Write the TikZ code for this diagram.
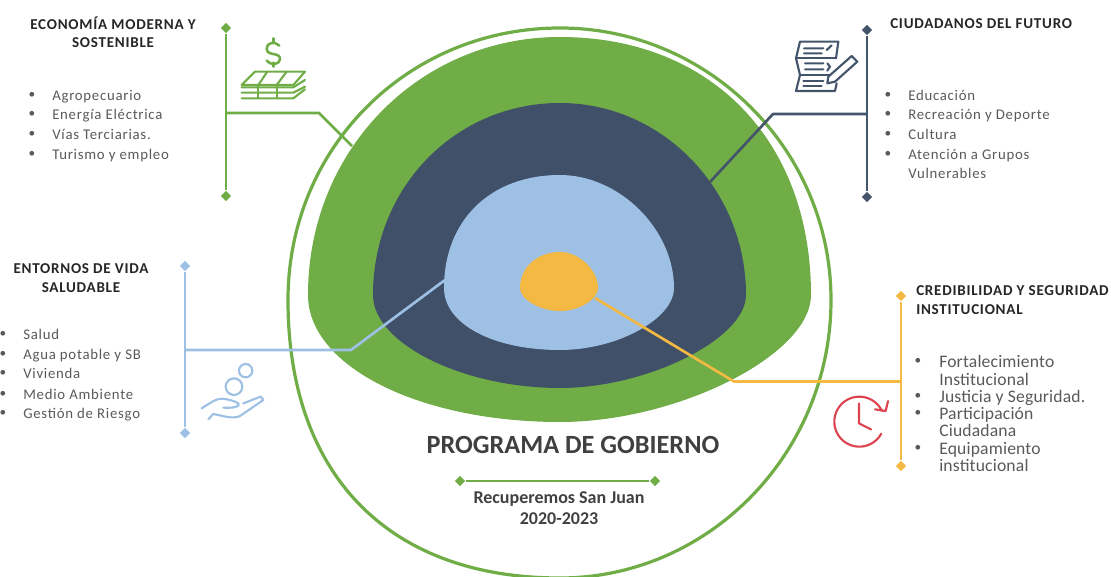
\documentclass[tikz,border=0pt]{standalone}
\usepackage{fontspec}
\setmainfont{Carlito}
\newfontfamily\hdfont[LetterSpace=5]{Carlito}
\newfontfamily\lsfont[LetterSpace=5]{Carlito}
\newfontfamily\lbfont[LetterSpace=1]{Carlito}
\usetikzlibrary{shapes.geometric}
\definecolor{cgreen}{HTML}{70AD47}
\definecolor{cnavy}{HTML}{44546A}
\definecolor{cdeep}{HTML}{405068}
\definecolor{clight}{HTML}{9DC0E4}
\definecolor{cyell}{HTML}{F4B942}
\definecolor{cred}{HTML}{DC4450}
\definecolor{ctext}{HTML}{595959}
\definecolor{chead}{HTML}{262626}
\definecolor{ctitle}{HTML}{404040}
\tikzset{
  conn/.style={line width=2pt,line join=round},
  tip/.style={diamond,fill=#1,draw=none,inner sep=0pt,minimum size=8pt},
  head/.style={font=\hdfont\bfseries\fontsize{11.3}{13}\selectfont,text=chead,inner sep=0pt,text height=9.2pt,text depth=0pt},
  item/.style={font=\lsfont\fontsize{11.1}{13}\selectfont,text=ctext,anchor=west,inner sep=0pt,text height=9.5pt,text depth=1pt},
  itemb/.style={font=\lbfont\fontsize{13.2}{14}\selectfont,text=ctext,anchor=west,inner sep=0pt,text height=10.5pt,text depth=1pt},
  bul/.style={font=\fontsize{10}{12}\selectfont,text=ctext,anchor=center,inner sep=0pt},
  icon/.style={line width=1.6pt,line cap=round,line join=round},
}
% cx, cy, left, right, top, bottom, k top-right, k bottom-right, k bottom-left; \kTL = k top-left
\newcommand\blob[9]{
  (#1,#5) .. controls ({#1+#7*(#4-#1)},#5) and (#4,{#2-#7*(#2-#5)}) .. (#4,#2)
  .. controls (#4,{#2+#8*(#6-#2)}) and ({#1+#8*(#4-#1)},#6) .. (#1,#6)
  .. controls ({#1-#9*(#1-#3)},#6) and (#3,{#2+#9*(#6-#2)}) .. (#3,#2)
  .. controls (#3,{#2-\kTL*(#2-#5)}) and ({#1-\kTL*(#1-#3)},#5) .. (#1,#5) -- cycle
}
\begin{document}
\begin{tikzpicture}[x=0.75pt,y=-0.75pt]
\useasboundingbox (0,0) rectangle (1111,577);
% rings
\def\kTL{.56}
\draw[cgreen,line width=2.4pt] \blob{560}{300}{288}{831}{28}{578}{.55}{.55}{.63};
\def\kTL{.56}
\fill[cgreen] \blob{560}{295}{308}{811}{37}{422}{.6}{.47}{.56};
\def\kTL{.56}
\fill[cdeep] \blob{560}{295}{373}{746}{103}{388}{.55}{.47}{.52};
\def\kTL{.6}
\fill[clight] \blob{560}{288}{444}{674}{175}{350}{.52}{.5}{.58};
\def\kTL{.57}
\fill[cyell] \blob{560}{288}{520}{598}{252}{311}{.5}{.5}{.5};
% connector anchors
\coordinate (gb) at (226,113); \coordinate (gk) at (319,113); \coordinate (ge) at (352,146);
\coordinate (nb) at (867,114); \coordinate (nk) at (773,114); \coordinate (ne) at (710,182);
\coordinate (lb) at (185,350); \coordinate (lk) at (351,350); \coordinate (le) at (445,280);
\coordinate (yb) at (901,381.5); \coordinate (yk) at (734,381.5); \coordinate (ye) at (595,298);
% spine tips
\node[tip=cgreen] (gt) at (226,28) {}; \node[tip=cgreen] (gd) at (226,196) {};
\node[tip=cnavy] (nt) at (867,30) {}; \node[tip=cnavy] (nd) at (867,197) {};
\node[tip=clight] (lt) at (185,266) {}; \node[tip=clight] (ld) at (185,433) {};
\node[tip=cyell] (yt) at (901,296) {}; \node[tip=cyell] (yd) at (901,466) {};
\node[tip=cgreen] (st) at (460,481) {}; \node[tip=cgreen] (sd) at (655,481) {};
% connectors
\draw[conn,cgreen] (gt) -- (gd); \draw[conn,cgreen] (gb) -- (gk) -- (ge);
\draw[conn,cnavy] (nt) -- (nd); \draw[conn,cnavy] (nb) -- (nk) -- (ne);
\draw[conn,clight] (lt) -- (ld); \draw[conn,clight] (lb) -- (lk) -- (le);
\draw[conn,cyell] (yt) -- (yd); \draw[conn,cyell] (yb) -- (yk) -- (ye);
\draw[cgreen,line width=1.4pt] (st) -- (sd);
% money icon
\begin{scope}[shift={(180,0)},scale=1/3,icon,cgreen]
\draw (225,215) -- (375,215) -- (340,255) -- (185,255) -- cycle;
\draw (262,215) -- (235,255) (320,215) -- (290,255);
\draw (185,262) -- (340,262) -- (375,240);
\draw (185,278) -- (340,278) -- (375,260);
\draw (185,295) -- (340,295) -- (375,268);
\draw (235,255) -- (235,295) (290,255) -- (290,295);
\draw[line width=1.9pt] (298,137) .. controls (285,122) and (258,128) .. (260,147) .. controls (262,170) and (302,155) .. (300,178) .. controls (298,196) and (270,196) .. (260,182);
\draw[line width=1.9pt] (280,115) -- (280,128) (280,188) -- (280,200);
\end{scope}
% document icon
\begin{scope}[shift={(770,20)},scale=1/3,icon,cnavy]
\draw (198,115) -- (205,65) -- (90,65) -- (78,115) -- (90,165) -- (78,213) -- (195,213) -- (200,190);
\draw (78,115) -- (198,115) (90,165) -- (180,165);
\draw (102,85) -- (160,85) (102,100) -- (155,100) (170,90) -- (185,76);
\draw (105,130) -- (160,130) (105,148) -- (160,148) (172,130) -- (180,140) -- (172,152);
\draw (100,182) -- (160,182) (100,197) -- (155,197);
\draw (175,170) -- (245,108) -- (262,125) -- (195,185) -- (172,190) -- cycle;
\end{scope}
% hand icon
\begin{scope}[shift={(170,340)},scale=1/3,icon,clight]
\draw (227,92) circle[radius=20];
\draw (192,140) circle[radius=25];
\draw (95,205) .. controls (120,190) and (140,172) .. (165,177) .. controls (185,180) and (215,190) .. (205,197) .. controls (195,205) and (175,203) .. (160,203);
\draw (220,190) -- (272,170) -- (280,180) -- (210,228) .. controls (190,238) and (160,228) .. (130,222) -- (115,238);
\end{scope}
% clock icon
\begin{scope}[shift={(820,370)},scale=1/3,icon,cred]
\draw plot[domain=29:335,samples=50] ({118+75*cos(\x)},{155+75*sin(\x)});
\draw (204,93) -- (197,123) -- (165,118);
\draw (117,100) -- (117,160) -- (153,178);
\end{scope}
% headings
\node[head] (h1a) at (113,23) {ECONOMÍA MODERNA Y};
\node[head] (h1b) at (113,41) {SOSTENIBLE};
\node[head,anchor=west] (h2) at (890,22) {CIUDADANOS DEL FUTURO};
\node[head] (h3a) at (81,267) {ENTORNOS DE VIDA};
\node[head] (h3b) at (81,286) {SALUDABLE};
\node[head,anchor=west] (h4a) at (916,289) {CREDIBILIDAD Y SEGURIDAD};
\node[head,anchor=west] (h4b) at (916,308) {INSTITUCIONAL};
% list 1
\foreach \n/\y/\t in {a/95/Agropecuario,b/114/Energía Eléctrica,c/134/Vías Terciarias.,d/154/Turismo y empleo}{
  \node[bul] (p\n) at (32,\y) {•}; \node[item] (i\n) at (52,\y) {\t};}
% list 2
\foreach \n/\y/\t in {a/95/Educación,b/114/Recreación y Deporte,c/134/Cultura,d/154/Atención a Grupos}{
  \node[bul] (q\n) at (888,\y) {•}; \node[item] (j\n) at (908,\y) {\t};}
\node[item] (je) at (908,173) {Vulnerables};
% list 3
\foreach \n/\y/\t in {a/334/Salud,b/354/Agua potable y SB,c/373/Vivienda,d/394/Medio Ambiente,e/413/Gestión de Riesgo}{
  \node[bul] (r\n) at (3,\y) {•}; \node[item] (k\n) at (23,\y) {\t};}
% list 4
\node[bul] (sa) at (918,361) {•}; \node[itemb] (la) at (939,361) {Fortalecimiento};
\node[itemb] (la2) at (939,379) {Institucional};
\node[bul] (sb) at (918,396) {•}; \node[itemb] (lb2) at (939,396) {Justicia y Seguridad.};
\node[bul] (sc) at (918,413) {•}; \node[itemb] (lc) at (939,413) {Participación};
\node[itemb] (lc2) at (939,430) {Ciudadana};
\node[bul] (sd2) at (918,448) {•}; \node[itemb] (ld2) at (939,448) {Equipamiento};
\node[itemb] (ld3) at (939,465) {institucional};
% title
\node[font=\bfseries\fontsize{19.7}{22}\selectfont,text=ctitle,inner sep=0pt] (title) at (573,445) {PROGRAMA DE GOBIERNO};
\node[font=\bfseries\fontsize{13.5}{15}\selectfont,text=ctitle,inner sep=0pt] (sub1) at (559,499) {Recuperemos San Juan};
\node[font=\bfseries\fontsize{13.5}{15}\selectfont,text=ctitle,inner sep=0pt] (sub2) at (559,519) {2020-2023};
\end{tikzpicture}
\end{document}
